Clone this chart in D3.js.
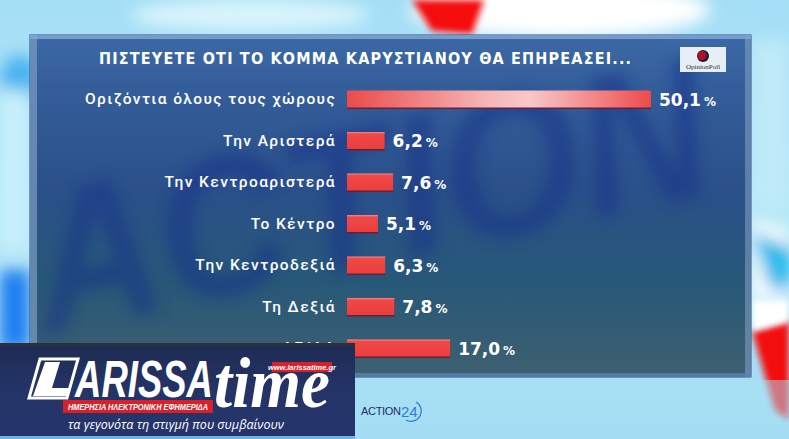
<!DOCTYPE html>
<html><head><meta charset="utf-8">
<script src="https://cdn.jsdelivr.net/npm/d3@7/dist/d3.min.js"></script>
<style>
html,body{margin:0;padding:0;background:#aee4f6;overflow:hidden}
svg{display:block}
</style></head><body>
<script>
const title = "ΠΙΣΤΕΥΕΤΕ ΟΤΙ ΤΟ ΚΟΜΜΑ ΚΑΡΥΣΤΙΑΝΟΥ ΘΑ ΕΠΗΡΕΑΣΕΙ...";
const categories = ["Οριζόντια όλους τους χώρους","Την Αριστερά","Την Κεντροαριστερά","Το Κέντρο","Την Κεντροδεξιά","Τη Δεξιά","ΔΓ/ΔΑ"];
const values = [50.1, 6.2, 7.6, 5.1, 6.3, 7.8, 17.0];
const valueLabels = ["50,1","6,2","7,6","5,1","6,3","7,8","17,0"];

const W = 789, H = 439;
const svg = d3.select("body").append("svg").attr("width", W).attr("height", H);
const defs = svg.append("defs");

function blur(id, sd){
  defs.append("filter").attr("id",id).attr("x","-50%").attr("y","-50%").attr("width","200%").attr("height","200%")
    .append("feGaussianBlur").attr("stdDeviation",sd);
}
blur("blur8",8); blur("blur3",3); blur("blur6",7);
defs.append("clipPath").attr("id","panelClip").append("rect").attr("x",30).attr("y",35).attr("width",721).attr("height",342);

function lin(id, stops, x2=0, y2=1){
  const g = defs.append("linearGradient").attr("id",id).attr("x1",0).attr("y1",0).attr("x2",x2).attr("y2",y2);
  stops.forEach(s=>g.append("stop").attr("offset",s[0]).attr("stop-color",s[1]));
}
lin("bgGrad",[[0,"#a4def6"],[0.5,"#b6e8f8"],[1,"#a2daf2"]]);
lin("panelGrad",[[0,"#3c6aa6"],[0.15,"#345e9a"],[0.45,"#2b508a"],[0.72,"#275878"],[1,"#3e6070"]]);
lin("barGrad0",[[0,"#ec4a4a"],[0.45,"#f6b4b4"],[0.6,"#f8c8c8"],[0.85,"#f27c7c"],[1,"#ec4a4a"]],1,0);
lin("barGrad",[[0,"#f88a8a"],[0.12,"#f04848"],[1,"#ea3e3e"]]);
lin("bannerGrad",[[0,"#1d2b52"],[0.5,"#243467"],[1,"#25356c"]]);

// ---------- background ----------
const bg = svg.append("g");
bg.append("rect").attr("width",W).attr("height",H).attr("fill","url(#bgGrad)");
const blobs = bg.append("g").attr("filter","url(#blur8)");
blobs.append("ellipse").attr("cx",560).attr("cy",10).attr("rx",150).attr("ry",28).attr("fill","#ffffff");
blobs.append("ellipse").attr("cx",250).attr("cy",15).attr("rx",120).attr("ry",16).attr("fill","#d8f4fc");
blobs.append("ellipse").attr("cx",20).attr("cy",80).attr("rx",20).attr("ry",25).attr("fill","#4ab4ee");
blobs.append("rect").attr("x",0).attr("y",270).attr("width",30).attr("height",80).attr("fill","#1e7ef0");
blobs.append("rect").attr("x",0).attr("y",90).attr("width",28).attr("height",160).attr("fill","#c8f0fc");
blobs.append("polygon").attr("points","752,220 789,230 789,300 752,300").attr("fill","#ffffff");
blobs.append("polygon").attr("points","752,232 789,246 789,290 770,290").attr("fill","#18b8ec");
bg.append("polygon").attr("points","752,330 789,320 789,420 775,410").attr("fill","#f40808").attr("filter","url(#blur3)");
bg.append("polygon").attr("points","752,300 789,300 789,322 752,332").attr("fill","#ffffff").attr("filter","url(#blur3)");
bg.append("polygon").attr("points","412,0 484,0 472,34 432,31").attr("fill","#f41010").attr("filter","url(#blur3)");
bg.append("rect").attr("x",752).attr("y",40).attr("width",37).attr("height",170).attr("fill","#bfeaf8").attr("filter","url(#blur8)");

// ---------- panel ----------
const panel = svg.append("g");
panel.append("rect").attr("x",30).attr("y",35).attr("width",721).attr("height",342)
  .attr("fill","url(#panelGrad)").attr("stroke","#2a4c80").attr("stroke-width",1);
// blurred background logo (decorative, clipped to the panel)
panel.append("g").attr("clip-path","url(#panelClip)")
  .append("text").attr("x",45).attr("y",335)
  .attr("transform","rotate(-12 45 335)")
  .attr("font-family","Liberation Sans, Arial").attr("font-weight","bold").attr("font-style","italic")
  .attr("font-size",200).attr("textLength",690).attr("lengthAdjust","spacingAndGlyphs")
  .attr("fill","#12308a").attr("opacity",0.5).attr("filter","url(#blur6)")
  .text("ACTION");
panel.append("rect").attr("x",30).attr("y",35).attr("width",7).attr("height",342).attr("fill","#7e9cc0").attr("opacity",0.7);
panel.append("rect").attr("x",745).attr("y",35).attr("width",6).attr("height",342).attr("fill","#7e9cc0").attr("opacity",0.6);
panel.append("rect").attr("x",30).attr("y",35).attr("width",721).attr("height",4).attr("fill","#86a8d4").attr("opacity",0.8);
panel.append("rect").attr("x",30).attr("y",373).attr("width",721).attr("height",4).attr("fill","#5a82b0").attr("opacity",0.8);

// title
panel.append("text").attr("x",365).attr("y",64).attr("text-anchor","middle")
  .attr("font-family","DejaVu Sans Condensed, DejaVu Sans").attr("font-weight","bold")
  .attr("font-size",16).attr("fill","#ffffff")
  .attr("textLength",532).attr("lengthAdjust","spacing")
  .text(title);

// OpinionPoll logo
const op = panel.append("g");
op.append("rect").attr("x",680).attr("y",47).attr("width",46).attr("height",25).attr("fill","#e6eef6");
op.append("circle").attr("cx",703).attr("cy",56).attr("r",6).attr("fill","#1a1a3a");
op.append("circle").attr("cx",702).attr("cy",55.5).attr("r",4.5).attr("fill","#b01020");
op.append("text").attr("x",703).attr("y",69).attr("text-anchor","middle")
  .attr("font-family","Liberation Serif, serif").attr("font-size",7).attr("fill","#3a2a3a").text("OpinionPoll");

// ---------- bars ----------
const x = d3.scaleLinear().domain([0, 50.1]).range([347, 651]);
const y = d3.scalePoint().domain(categories).range([99, 348]);
const bh = 17;

const rows = panel.selectAll("g.row").data(categories).join("g").attr("class","row");
rows.append("rect")
  .attr("x", x(0)).attr("y", d=>y(d)-bh/2+1.5)
  .attr("width", (d,i)=>x(values[i])-x(0)).attr("height", bh)
  .attr("fill","#7a1424").attr("opacity",0.85);
rows.append("rect")
  .attr("x", x(0)).attr("y", d=>y(d)-bh/2)
  .attr("width", (d,i)=>x(values[i])-x(0)).attr("height", bh)
  .attr("fill", (d,i)=> i===0 ? "url(#barGrad0)" : "url(#barGrad)");

rows.append("text")
  .attr("x", 336).attr("y", d=>y(d)+5).attr("text-anchor","end")
  .attr("font-family","Roboto, sans-serif").attr("font-weight",500)
  .attr("font-size",15.5).attr("letter-spacing",1.4).attr("fill","#ffffff")
  .text(d=>d);

const vt = rows.append("text")
  .attr("x", (d,i)=>x(values[i])+8).attr("y", d=>y(d)+6.5)
  .attr("font-family","DejaVu Sans, sans-serif").attr("font-weight","bold")
  .attr("font-size",17).attr("fill","#ffffff");
vt.append("tspan").text((d,i)=>valueLabels[i]);
vt.append("tspan").attr("font-size",12).attr("dx",3).text("%");

// ---------- bottom strip & logos ----------
svg.append("rect").attr("x",0).attr("y",380).attr("width",W).attr("height",59).attr("fill","#a8e2f6").attr("opacity",0.5);

const act = svg.append("g");
act.append("text").attr("x",361).attr("y",415)
  .attr("font-family","Liberation Sans, Arial").attr("font-size",11).attr("fill","#1b2f6a")
  .attr("letter-spacing",-0.3).text("ACTION");
act.append("path").attr("d","M416,402 A9,9 0 1,1 406,420").attr("fill","none").attr("stroke","#2a7ed8").attr("stroke-width",1.3);
act.append("text").attr("x",401).attr("y",417)
  .attr("font-family","Liberation Sans, Arial").attr("font-size",15).attr("fill","#2a7ed8").text("24");

// ---------- Larissa time banner ----------
const b = svg.append("g");
b.append("rect").attr("x",0).attr("y",343).attr("width",355).attr("height",95).attr("fill","url(#bannerGrad)");
b.append("rect").attr("x",0).attr("y",343).attr("width",355).attr("height",3).attr("fill","#2b2f3c");
b.append("rect").attr("x",0).attr("y",436).attr("width",355).attr("height",3).attr("fill","#6fb4e0");
b.append("polygon").attr("points","40,359 78,359 67,398 29,398").attr("fill","none").attr("stroke","#ffffff").attr("stroke-width",3);
b.append("polygon").attr("points","45,362 60,362 52,388 70,388 67,396 33,396").attr("fill","#ffffff");
b.append("text").attr("x",75).attr("y",397)
  .attr("font-family","Liberation Sans, Arial").attr("font-weight","bold").attr("font-style","italic")
  .attr("font-size",52).attr("fill","#ffffff").attr("textLength",138).attr("lengthAdjust","spacingAndGlyphs")
  .text("ARISSA");
b.append("text").attr("x",214).attr("y",407)
  .attr("font-family","Liberation Serif, serif").attr("font-weight","bold").attr("font-style","italic")
  .attr("font-size",72).attr("fill","#ffffff").attr("textLength",116).attr("lengthAdjust","spacingAndGlyphs")
  .text("time");
b.append("rect").attr("x",272).attr("y",362).attr("width",60).attr("height",10).attr("fill","#d8202a");
b.append("text").attr("x",302).attr("y",370).attr("text-anchor","middle")
  .attr("font-family","Liberation Sans, Arial").attr("font-weight","bold").attr("font-style","italic")
  .attr("font-size",7.5).attr("fill","#ffffff").text("www.larissatime.gr");
b.append("rect").attr("x",63).attr("y",400).attr("width",150).attr("height",13).attr("fill","#d8202a");
b.append("text").attr("x",138).attr("y",410).attr("text-anchor","middle")
  .attr("font-family","Liberation Sans, Arial").attr("font-weight","bold").attr("font-style","italic")
  .attr("font-size",8.5).attr("fill","#ffffff").attr("textLength",140).attr("lengthAdjust","spacingAndGlyphs")
  .text("ΗΜΕΡΗΣΙΑ ΗΛΕΚΤΡΟΝΙΚΗ ΕΦΗΜΕΡΙΔΑ");
b.append("text").attr("x",176).attr("y",429).attr("text-anchor","middle")
  .attr("font-family","Open Sans, sans-serif").attr("font-style","italic")
  .attr("font-size",12.5).attr("fill","#ffffff")
  .text("τα γεγονότα τη στιγμή που συμβαίνουν");
</script>
</body></html>
